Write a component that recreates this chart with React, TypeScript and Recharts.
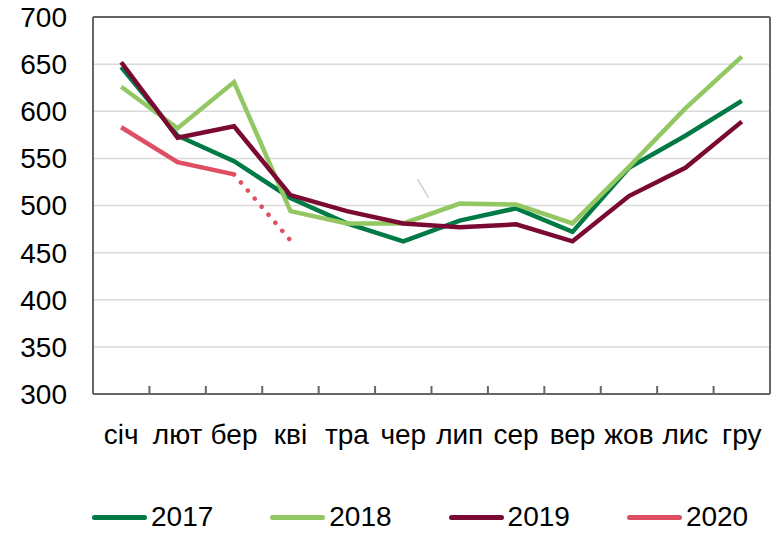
import { CartesianGrid, Legend, Line, LineChart, ReferenceLine, XAxis, YAxis } from 'recharts'

const months = ['січ', 'лют', 'бер', 'кві', 'тра', 'чер', 'лип', 'сер', 'вер', 'жов', 'лис', 'гру']
const y2017 = [647, 574, 547, 508, 481, 462, 484, 497, 472, 540, 574, 611]
const y2018 = [626, 582, 631, 494, 481, 481, 502, 501, 481, 541, 603, 658]
const y2019 = [652, 572, 584, 511, 494, 481, 477, 480, 462, 510, 540, 589]
const y2020 = [583, 546, 533, null, null, null, null, null, null, null, null, null]
// оцінка за квітень (пунктир)
const y2020est = [null, null, 533, 463, null, null, null, null, null, null, null, null]
const yTicks = [300, 350, 400, 450, 500, 550, 600, 650, 700]
// маленька сіра риска біля "чер" з оригіналу (в одиницях індексу місяця)
const strayMark = [
  { x: 5.25, y: 528 },
  { x: 5.45, y: 508 },
]

const series = [
  { key: 'y2017', name: '2017', color: '#007a45' },
  { key: 'y2018', name: '2018', color: '#93c763' },
  { key: 'y2019', name: '2019', color: '#7a0a33' },
  { key: 'y2020', name: '2020', color: '#de4f64' },
]

const data = months.map((m, i) => ({
  idx: i,
  month: m,
  y2017: y2017[i],
  y2018: y2018[i],
  y2019: y2019[i],
  y2020: y2020[i],
  y2020est: y2020est[i],
}))

const FONT = '"Liberation Sans", Arial, sans-serif'
const AXIS = '#666666'
const TICK_GAP = 30

// підпис місяця + коротка риска всередину на межі між місяцями
function MonthTick(props: any) {
  const { x, y, payload, index } = props
  const edge = payload.coordinate - (payload.offset || 0)
  const axisY = y - TICK_GAP
  return (
    <g>
      {index > 0 && <line x1={edge} x2={edge} y1={axisY} y2={axisY - 8} stroke={AXIS} strokeWidth={2} />}
      <text x={x} y={y} dy="0.71em" textAnchor="middle" fontSize={28} fill="#000" fontFamily={FONT}>
        {payload.value}
      </text>
    </g>
  )
}

function LegendRow() {
  return (
    <div
      style={{ display: 'flex', alignItems: 'center', height: 22, fontFamily: FONT, fontSize: 28, lineHeight: '22px', color: '#000' }}
    >
      {series.map((s, i) => (
        <div
          key={s.key}
          style={{ display: 'flex', alignItems: 'center', marginRight: i < series.length - 1 ? 57 : 0 }}
        >
          <span
            style={{ display: 'inline-block', width: 55, height: 5, borderRadius: 3, background: s.color, marginRight: 4 }}
          />
          <span>{s.name}</span>
        </div>
      ))}
    </div>
  )
}

export default function App() {
  return (
    <div style={{ position: 'absolute', left: 0, top: 0, background: '#fff' }}>
      <LineChart width={778} height={534} data={data} margin={{ top: 17, right: 8, left: 0, bottom: 0 }}>
        <CartesianGrid vertical={false} stroke="#d9d9d9" strokeWidth={1.5} />
        <XAxis xAxisId="idx" dataKey="idx" type="number" domain={[-0.5, 11.5]} allowDataOverflow hide />
        <XAxis
          dataKey="month"
          scale="band"
          height={118}
          interval={0}
          axisLine={{ stroke: AXIS, strokeWidth: 2 }}
          tickLine={false}
          tickSize={0}
          tickMargin={TICK_GAP}
          tick={<MonthTick />}
        />
        <YAxis
          domain={[300, 700]}
          ticks={yTicks}
          width={93}
          axisLine={{ stroke: AXIS, strokeWidth: 2 }}
          tickLine={false}
          tickSize={0}
          tickMargin={26}
          tick={{ fontSize: 28, fill: '#000', fontFamily: FONT }}
        />
        <ReferenceLine y={700} stroke={AXIS} strokeWidth={2} />
        <ReferenceLine x="гру" position="end" stroke={AXIS} strokeWidth={2} />
        <ReferenceLine xAxisId="idx" segment={strayMark} stroke="#cfcfcf" strokeWidth={1.5} />
        <Legend
          verticalAlign="bottom"
          align="left"
          content={() => <LegendRow />}
          wrapperStyle={{ left: 92, top: 506, width: 680, height: 22 }}
        />
        {series.map((s) => (
          <Line
            key={s.key}
            dataKey={s.key}
            name={s.name}
            stroke={s.color}
            strokeWidth={4.5}
            dot={false}
            activeDot={false}
            isAnimationActive={false}
          />
        ))}
        <Line
          dataKey="y2020est"
          stroke="#de4f64"
          strokeWidth={4.5}
          strokeDasharray="0.1 10.5"
          strokeLinecap="round"
          dot={false}
          activeDot={false}
          legendType="none"
          isAnimationActive={false}
        />
      </LineChart>
    </div>
  )
}
